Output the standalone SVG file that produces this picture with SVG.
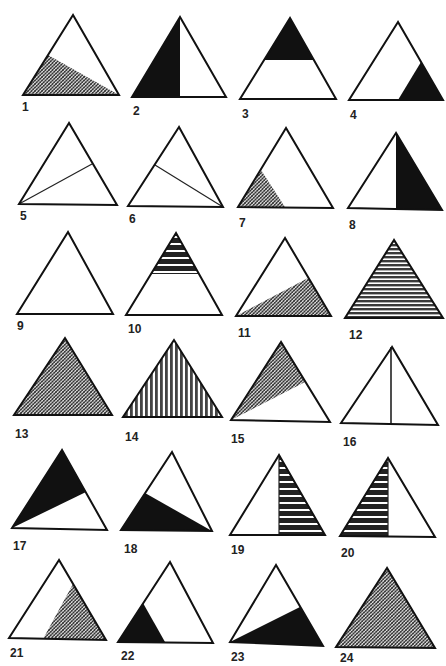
<svg xmlns="http://www.w3.org/2000/svg" width="446" height="666" viewBox="0 0 446 666">
<defs>
<pattern id="xh" patternUnits="userSpaceOnUse" width="3.5" height="3.5">
<rect width="3.5" height="3.5" fill="#fff"/>
<path d="M0,3.5 L3.5,0 M-1,1 L1,-1 M2.5,4.5 L4.5,2.5" stroke="#222" stroke-width="1.2"/>
<path d="M0,0 L3.5,3.5 M-1,2.5 L1,4.5 M2.5,-1 L4.5,1" stroke="#444" stroke-width="0.8"/>
</pattern>
<pattern id="hs" patternUnits="userSpaceOnUse" width="8" height="4">
<rect width="8" height="4" fill="#fff"/>
<rect y="0" width="8" height="2.4" fill="#3a3a3a"/>
</pattern>
<pattern id="hs2" patternUnits="userSpaceOnUse" width="8" height="7">
<rect width="8" height="7" fill="#fff"/>
<rect y="0" width="8" height="5" fill="#222"/>
</pattern>
<pattern id="vs" patternUnits="userSpaceOnUse" width="5" height="8">
<rect width="5" height="8" fill="#fff"/>
<rect x="0" width="2.8" height="8" fill="#444"/>
</pattern>
</defs>
<style>
.t{fill:none;stroke:#111;stroke-width:2;stroke-linejoin:miter}
.l{fill:none;stroke:#222;stroke-width:1.2}
.b{fill:#111}
.x{fill:url(#xh)}
.h{fill:url(#hs)}
.h2{fill:url(#hs2)}
.v{fill:url(#vs)}
text{font-family:"Liberation Sans",Arial,sans-serif;font-size:12px;font-weight:bold;fill:#222}
</style>
<rect width="446" height="666" fill="#fff"/>

<g id="fig1"><polygon class="x" points="48,55 23,95 119,95"/><polygon class="t" points="73,15 23,95 119,95"/><text x="22" y="111">1</text></g>
<g id="fig2"><polygon class="b" points="180,17 132,97 180,97"/><polygon class="t" points="180,17 132,97 226,97"/><text x="133" y="115">2</text></g>
<g id="fig3"><polygon class="b" points="290,18 264,60 314,60"/><polygon class="t" points="290,18 240,99 336,99"/><text x="242" y="118">3</text></g>
<g id="fig4"><polygon class="b" points="421,62 443,100 398,100"/><polygon class="t" points="398,22 349,100 443,100"/><text x="350" y="119">4</text></g>

<g id="fig5"><line class="l" x1="19" y1="204" x2="92" y2="164"/><polygon class="t" points="69,123 19,204 117,205"/><text x="20" y="220">5</text></g>
<g id="fig6"><line class="l" x1="223" y1="207" x2="155" y2="165"/><polygon class="t" points="179,127 128,206 223,207"/><text x="129" y="223">6</text></g>
<g id="fig7"><polygon class="x" points="238,207 261,170 285,207"/><polygon class="t" points="286,128 238,207 333,208"/><text x="239" y="227">7</text></g>
<g id="fig8"><polygon class="b" points="396,133 396,209 442,210"/><polygon class="t" points="396,133 348,208 442,210"/><text x="349" y="229">8</text></g>

<g id="fig9"><polygon class="t" points="68,232 17,314 113,314"/><text x="17" y="330">9</text></g>
<g id="fig10"><polygon class="h2" points="176,233 151,274 199,274"/><polygon class="t" points="176,233 126,315 222,315"/><text x="128" y="333">10</text></g>
<g id="fig11"><polygon class="x" points="236,316 308,278 331,316"/><polygon class="t" points="285,238 236,316 331,316"/><text x="238" y="337">11</text></g>
<g id="fig12"><polygon class="h" points="394,240 345,318 443,318"/><polygon class="t" points="394,240 345,318 443,318"/><text x="349" y="339">12</text></g>

<g id="fig13"><polygon class="x" points="65,338 14,415 112,415"/><polygon class="t" points="65,338 14,415 112,415"/><text x="15" y="438">13</text></g>
<g id="fig14"><polygon class="v" points="174,340 123,417 222,417"/><polygon class="t" points="174,340 123,417 222,417"/><text x="125" y="441">14</text></g>
<g id="fig15"><polygon class="x" points="281,342 231,420 305,382"/><polygon class="t" points="281,342 231,420 330,422"/><text x="231" y="443">15</text></g>
<g id="fig16"><line class="l" x1="391" y1="347" x2="391" y2="424" style="stroke-width:1.6"/><polygon class="t" points="392,347 341,423 438,425"/><text x="343" y="446">16</text></g>

<g id="fig17"><polygon class="b" points="62,450 12,528 86,492"/><polygon class="t" points="62,450 12,528 107,530"/><text x="13" y="550">17</text></g>
<g id="fig18"><polygon class="b" points="121,530 145,493 212,531"/><polygon class="t" points="172,452 121,530 212,531"/><text x="124" y="553">18</text></g>
<g id="fig19"><polygon class="h2" points="279,455 279,535 325,535"/><line class="l" x1="279" y1="455" x2="279" y2="535"/><polygon class="t" points="279,455 230,535 325,535"/><text x="231" y="554">19</text></g>
<g id="fig20"><polygon class="h2" points="388,458 340,536 388,536"/><line class="l" x1="388" y1="458" x2="388" y2="536"/><polygon class="t" points="388,458 340,536 435,537"/><text x="341" y="557">20</text></g>

<g id="fig21"><polygon class="x" points="73,584 43,639 106,640"/><polygon class="t" points="59,560 9,638 106,640"/><text x="10" y="657">21</text></g>
<g id="fig22"><polygon class="b" points="118,642 143,603 165,642"/><polygon class="t" points="170,562 118,642 213,643"/><text x="121" y="660">22</text></g>
<g id="fig23"><polygon class="b" points="230,642 300,607 323,646"/><polygon class="t" points="276,565 230,642 323,646"/><text x="231" y="661">23</text></g>
<g id="fig24"><polygon class="x" points="387,568 336,647 435,648"/><polygon class="t" points="387,568 336,647 435,648"/><text x="340" y="662">24</text></g>

<g id="connectors"/>
</svg>
